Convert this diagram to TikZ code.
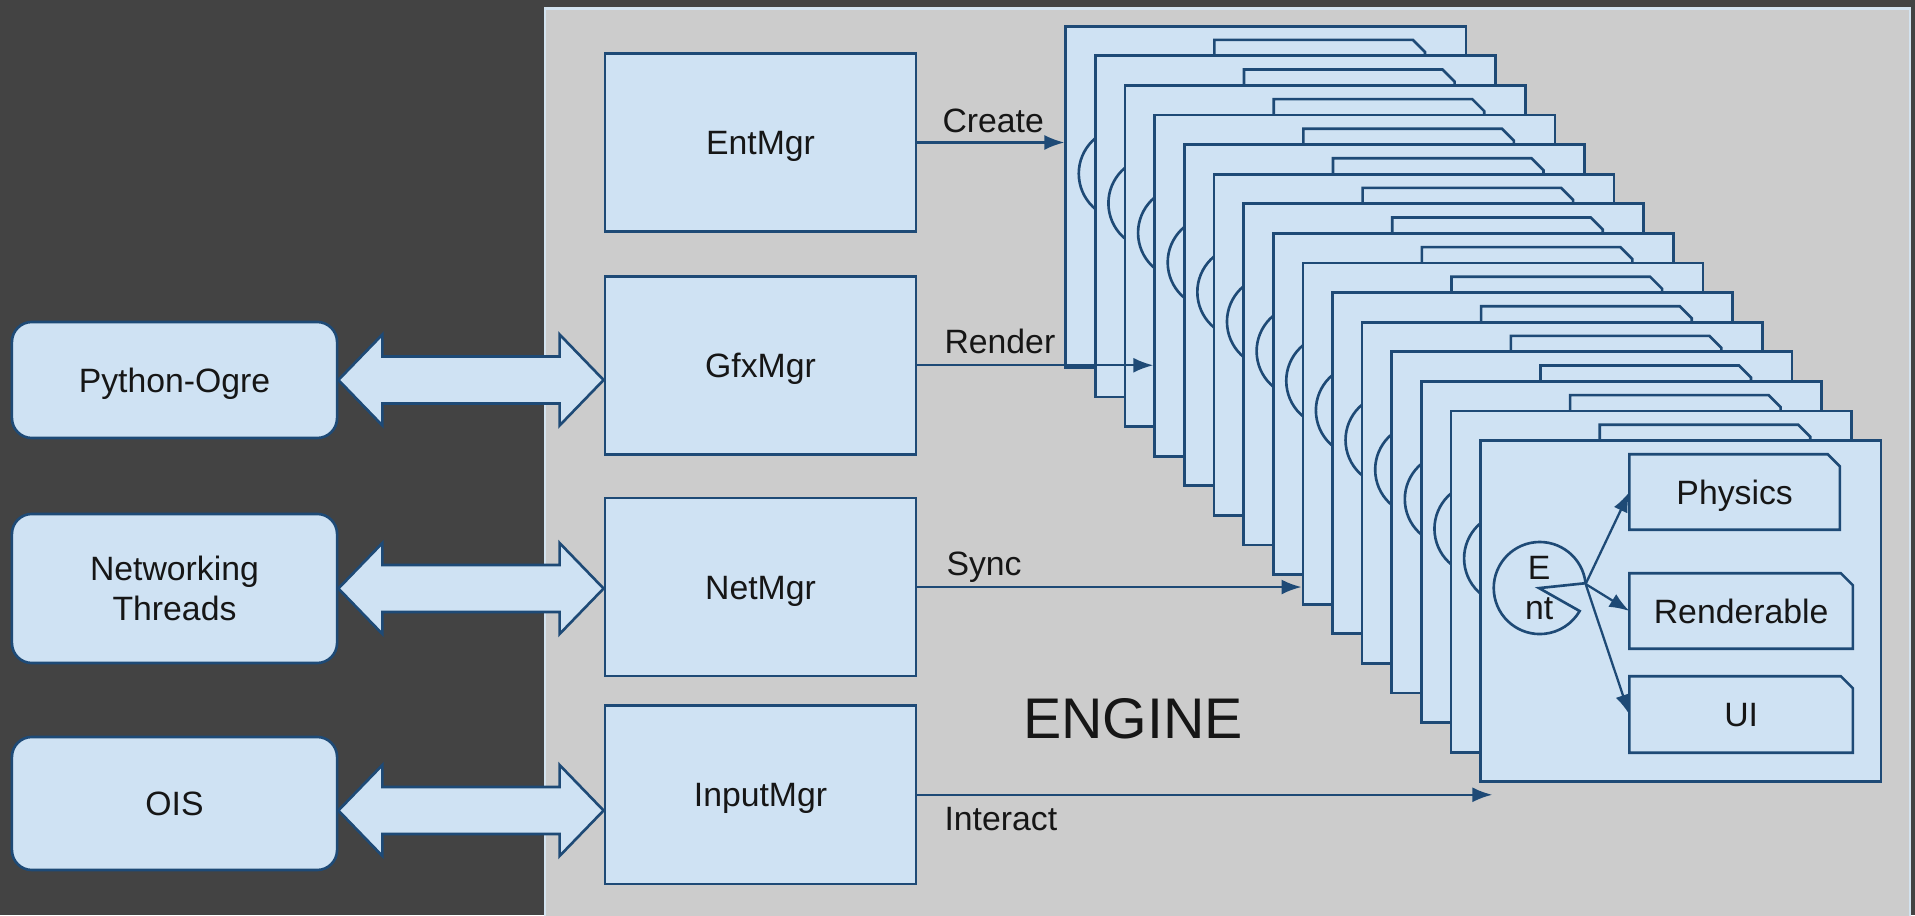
\documentclass[tikz,border=0pt]{standalone}
\usepackage{fontspec}
\setmainfont{Liberation Sans}
\usepackage{tikz}
\usetikzlibrary{arrows.meta, positioning, calc}

\definecolor{bgdark}{HTML}{434343}
\definecolor{enginebg}{HTML}{CCCCCC}
\definecolor{engineline}{HTML}{D3E3F0}
\definecolor{boxfill}{HTML}{CFE2F3}
\definecolor{edge}{HTML}{1E4A76}
\definecolor{ink}{HTML}{161616}

\begin{document}
\begin{tikzpicture}[
  x=0.01cm, y=0.01cm,
  every node/.style={font=\fontsize{9.6}{11.5}\selectfont, text=ink},
  captext/.style={text height=0.242cm, text depth=0pt},
  mgr/.style={draw=edge, fill=boxfill, line width=0.75pt, inner sep=0, captext,
              minimum width=3.11cm, minimum height=1.78cm},
  ext/.style={draw=edge, fill=boxfill, line width=0.75pt, inner sep=0,
              rounded corners=0.2cm, minimum width=3.25cm, align=center},
  card/.style={draw=edge, fill=boxfill, line width=0.75pt, inner sep=0,
               minimum width=4cm, minimum height=3.41cm, anchor=north west},
  part/.style={fill=boxfill, inner sep=0, captext, minimum height=0.74cm, anchor=north west},
  tab/.style={draw=edge, line width=0.75pt},
  entc/.style={circle, inner sep=0, minimum size=0.92cm, align=center},
  arr/.style={-{Latex[length=0.2cm, width=0.15cm]}, draw=edge, line width=0.65pt},
  lbl/.style={inner sep=0},
  dbl/.style={draw=edge, fill=boxfill, line width=0.75pt,
    to path={(\tikztostart) -- ++(44,45.5) -- ++(0,-22)
      -- ($(\tikztotarget)+(-44,23.5)$) -- ++(0,22) -- (\tikztotarget)
      -- ++(-44,-45.5) -- ++(0,22) -- ($(\tikztostart)+(44,-23.5)$)
      -- ++(0,-22) -- cycle}},
]
  \useasboundingbox (0,0) rectangle (1915,915);
  \fill[bgdark] (0,0) rectangle (1915,915);
  \draw[fill=enginebg, draw=engineline, line width=0.6pt] (545,-5) rectangle (1910,906.5);

  % managers
  \node[mgr] (entm) at (760.5,772.5) {EntMgr};
  \node[mgr, below=0.42cm of entm] (gfx) {GfxMgr};
  \node[mgr, below=0.41cm of gfx]  (net) {NetMgr};
  \node[mgr, below=0.27cm of net]  (inp) {InputMgr};

  % outside libraries
  \node[ext, captext, minimum height=1.16cm] (py) at (174.5,535) {Python-Ogre};
  \node[ext, minimum height=1.49cm] (netw) at (174.5,326.5) {Networking\\Threads};
  \node[ext, captext, minimum height=1.33cm] (ois) at (174.5,111.5) {OIS};

  \coordinate (oisport) at ($(ois.east)+(0,-7)$);
  \coordinate (inpport) at (oisport -| inp.west);
  \draw[dbl] (py.east) to (py.east -| gfx.west);
  \draw[dbl] (netw.east) to (netw.east -| net.west);
  \draw[dbl] (oisport) to (inpport);

  % stack of entities, only the front one is labelled
  \foreach \i in {0,...,14}{
    \node[card] (card\i) at ({1064.4+29.64*\i},{890.1-29.6*\i}) {};
    \node[entc] (ent\i) at ($(card\i.north west)+(59.7,-148.8)$) {\ifnum\i=14 E\\nt\fi};
    \draw[tab] (ent\i.center) -- (ent\i.6)
      arc[start angle=6, end angle=330, radius=0.46cm] -- cycle;
    \node[part, minimum width=2.09cm] (phys\i) at ($(card\i.north west)+(150,-15)$) {\ifnum\i=14 Physics\fi};
    \node[part, minimum width=2.22cm] (rend\i) at ($(card\i.north west)+(150,-134)$) {\ifnum\i=14 Renderable\fi};
    \node[part, minimum width=2.22cm, minimum height=0.75cm] (ui\i) at ($(card\i.north west)+(150,-237)$) {\ifnum\i=14 UI\fi};
    \foreach \p in {phys\i, rend\i, ui\i}
      \draw[tab] (\p.south west) -- (\p.north west) -- ([xshift=-0.12cm]\p.north east)
        -- ([yshift=-0.12cm]\p.north east) -- (\p.south east) -- cycle;
    \draw[arr] (ent\i.5) -- (phys\i.west);
    \draw[arr] (ent\i.5) -- (rend\i.west);
    \draw[arr] (ent\i.5) -- (ui\i.west);
  }

  \node[font=\fontsize{16.3}{19}\selectfont] (engine) at (1133,196) {ENGINE};

  \draw[arr] (entm.east) -- node[lbl, at start, anchor=base west, shift={(24,9.5)}] {Create} (entm.east -| card0.west);
  \draw[arr] (gfx.east) -- node[lbl, at start, anchor=base west, shift={(26,11.7)}] {Render} (gfx.east -| card3.west);
  \draw[arr] (net.east) -- node[lbl, at start, anchor=base west, shift={(28,12)}] {Sync} (net.east -| card8.west);
  \draw[arr] (inp.east) -- node[lbl, at start, anchor=north west, shift={(26,-11)}] {Interact} ($(inp.east -| card14.west)+(13,0)$);
\end{tikzpicture}
\end{document}
